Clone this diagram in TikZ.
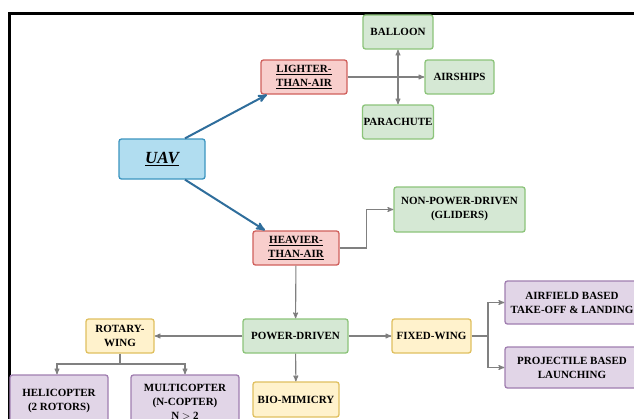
\documentclass[tikz,border=0pt]{standalone}
\usepackage{fontspec}
\setmainfont{Liberation Serif}
\usetikzlibrary{arrows,positioning}

\definecolor{uavfill}{HTML}{B1DDF0}
\definecolor{uavline}{HTML}{3C95C0}
\definecolor{redfill}{HTML}{F8CECC}
\definecolor{redline}{HTML}{D0605C}
\definecolor{greenfill}{HTML}{D5E8D4}
\definecolor{greenline}{HTML}{8CC47A}
\definecolor{yellowfill}{HTML}{FFF2CC}
\definecolor{yellowline}{HTML}{E0C060}
\definecolor{purplefill}{HTML}{E1D5E7}
\definecolor{purpleline}{HTML}{A07EB0}
\definecolor{arrowblue}{HTML}{2F6E9C}
\definecolor{linegray}{HTML}{808080}

\begin{document}
\begin{tikzpicture}[x=1pt,y=-1pt,>=stealth',
  box/.style={draw,rounded corners=2.5pt,line width=1.3pt,align=center,inner sep=1pt,
    font=\fontsize{11}{14}\selectfont\bfseries},
  uavbox/.style={box,fill=uavfill,draw=uavline,font=\fontsize{17}{20}\selectfont\bfseries\itshape},
  redbox/.style={box,fill=redfill,draw=redline},
  greenbox/.style={box,fill=greenfill,draw=greenline},
  yellowbox/.style={box,fill=yellowfill,draw=yellowline},
  purplebox/.style={box,fill=purplefill,draw=purpleline},
  link/.style={draw=linegray,line width=1.1pt},
  bigarrow/.style={draw=arrowblue,line width=2pt}]

\clip (0,0) rectangle (634,418);
\fill[white] (0,0) rectangle (634,418);
\draw[line width=3pt] (9.5,440) |- (660,13.5);

\node[uavbox,minimum width=86pt,minimum height=40pt] (uav) at (162,159) {\underline{UAV}};

\node[redbox,minimum width=86pt,minimum height=34pt] (lta) at (304,77) {\underline{LIGHTER-}\\\underline{THAN-AIR}};
\node[greenbox,minimum width=70pt,minimum height=34pt] (balloon) at (398,32) {BALLOON};
\node[greenbox,minimum width=69pt,minimum height=34pt] (airships) at (459.5,77) {AIRSHIPS};
\node[greenbox,minimum width=70pt,minimum height=34pt] (parachute) at (398,122) {PARACHUTE};

\node[redbox,minimum width=86pt,minimum height=34pt] (hta) at (296,248) {\underline{HEAVIER-}\\\underline{THAN-AIR}};
\node[greenbox,minimum width=131pt,minimum height=45pt] (npd) at (459.5,209.5) {NON-POWER-DRIVEN\\(GLIDERS)};

\node[greenbox,minimum width=105pt,minimum height=34pt] (pd) at (295.5,336) {POWER-DRIVEN};
\node[yellowbox,minimum width=68pt,minimum height=34pt] (rw) at (120,336) {ROTARY-\\WING};
\node[yellowbox,minimum width=79pt,minimum height=34pt] (fw) at (431.5,336) {FIXED-WING};
\node[yellowbox,minimum width=86pt,minimum height=35pt] (bm) at (296,399.5) {BIO-MIMICRY};

\node[purplebox,minimum width=98pt,minimum height=52pt] (heli) at (59,401) {HELICOPTER\\(2 ROTORS)};
\node[purplebox,minimum width=108pt,minimum height=55pt] (multi) at (185,402.5) {MULTICOPTER\\(N-COPTER)\\N $>$ 2};
\node[purplebox,minimum width=134pt,minimum height=43pt] (airfield) at (572,302.5) {AIRFIELD BASED\\TAKE-OFF \& LANDING};
\node[purplebox,minimum width=134pt,minimum height=41pt] (proj) at (572,367.5) {PROJECTILE BASED\\LAUNCHING};

\coordinate (rwsplit) at (120,364);
\coordinate (fwsplit) at (488,336);

\draw[bigarrow,->] ([xshift=23pt]uav.north) -- ([xshift=-37pt]lta.south);
\draw[bigarrow,->] ([xshift=23pt]uav.south) -- ([xshift=-31pt]hta.north);

\path[link,->] (lta) edge (airships)
               (hta) edge (pd)
               (pd)  edge (rw)
                     edge (fw)
                     edge (bm);
\draw[link,<->] (parachute) -- (balloon);
\draw[link,->] (hta.east) -- ++(27,0) |- (npd.west);
\draw[link,->] (rw.south) -- (rwsplit) -| ([xshift=-2pt]heli.north);
\draw[link,->] (rwsplit) -| (multi.north);
\draw[link] (fw.east) -- (fwsplit);
\draw[link,->] (fwsplit) |- (airfield.west);
\draw[link,->] (fwsplit) |- (proj.west);

\end{tikzpicture}
\end{document}
